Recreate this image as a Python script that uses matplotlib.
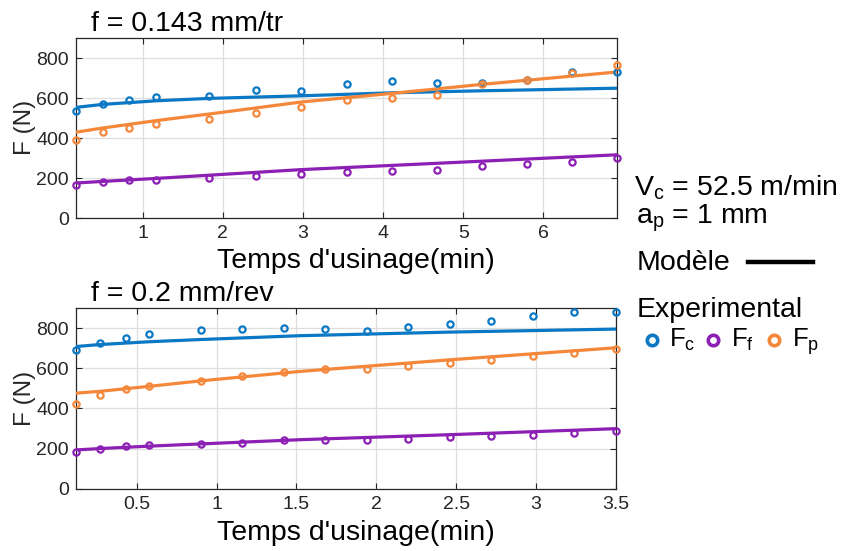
import matplotlib
matplotlib.use("Agg")
import matplotlib.pyplot as plt
import numpy as np

plt.rcParams['font.family'] = ['Liberation Sans', 'DejaVu Sans']
plt.rcParams['mathtext.fontset'] = 'custom'
plt.rcParams['mathtext.rm'] = 'Liberation Sans'
plt.rcParams['mathtext.it'] = 'Liberation Sans:italic'

c_blue = '#0A78C4'
c_orange = '#F5873A'
c_purple = '#8C1FB4'

# f = 0.143 mm/tr
t1 = [0.167, 0.5, 0.833, 1.167, 1.833, 2.42, 2.98, 3.55, 4.11, 4.67, 5.23, 5.8, 6.36, 6.92]
fc1 = [537, 570, 590, 603, 610, 640, 635, 669, 683, 673, 673, 692, 732, 732]
fp1 = [388, 432, 451, 469, 495, 525, 557, 591, 598, 615, 668, 692, 724, 763]
ff1 = [164, 180, 189, 192, 202, 210, 220, 230, 234, 242, 260, 271, 280, 302]
tm1 = [0.167, 0.5, 1.17, 1.83, 2.98, 4.11, 5.23, 6.92]
fc1_mod = [553, 568, 586, 598, 611, 626, 636, 649]
fp1_mod = [429, 450, 487, 520, 580, 623, 668, 730]
ff1_mod = [175, 183, 198, 214, 242, 263, 284, 316]

# f = 0.2 mm/rev
t2 = [0.12, 0.27, 0.43, 0.58, 0.90, 1.16, 1.42, 1.68, 1.94, 2.20, 2.46, 2.72, 2.98, 3.24, 3.50]
fc2 = [692, 725, 753, 772, 792, 793, 800, 797, 785, 805, 820, 835, 861, 880, 881]
fp2 = [421, 467, 496, 511, 536, 559, 582, 594, 594, 612, 624, 639, 659, 675, 698]
ff2 = [183, 200, 213, 216, 225, 230, 241, 245, 243, 250, 259, 264, 269, 278, 289]
tm2 = [0.12, 0.27, 0.58, 0.90, 1.52, 2.46, 3.50]
fc2_mod = [708, 718, 732, 743, 762, 780, 795]
fp2_mod = [476, 485, 510, 537, 584, 642, 702]
ff2_mod = [193, 200, 212, 223, 244, 269, 299]

xt1 = [1, 2, 3, 4, 5, 6]
xt2 = [0.5, 1, 1.5, 2, 2.5, 3, 3.5]
xt2_lab = ['0.5', '1', '1.5', '2', '2.5', '3', '3.5']
yt = [0, 200, 400, 600, 800]

fig = plt.figure(figsize=(8.45, 5.51), dpi=100)
W, H = 845, 551
ax1 = fig.add_axes([76/W, 1-218/H, 541/W, 180/H])
ax2 = fig.add_axes([76/W, 1-488.7/H, 540/W, 180.7/H])


def draw(ax, t, fc, fp, ff, tm, fcm, fpm, ffm, xlim, xt, xtl):
    for y, ym, col in [(fc, fcm, c_blue), (fp, fpm, c_orange), (ff, ffm, c_purple)]:
        ax.plot(tm, ym, color=col, lw=2.3, solid_capstyle='butt', zorder=3)
        ax.plot(t, y, 'o', mfc='none', mec=col, ms=4.5, mew=1.6, clip_on=False, zorder=4)
    ax.set_xlim(*xlim)
    ax.set_ylim(0, 900)
    ax.set_xticks(xt)
    ax.set_xticklabels(xtl)
    ax.set_yticks(yt)
    ax.grid(True, color='#dedede', lw=0.9)
    ax.set_axisbelow(True)
    ax.tick_params(direction='in', top=True, right=True, length=4, width=0.8,
                   labelsize=14, colors='#262626', pad=5)
    for s in ax.spines.values():
        s.set_color('#262626')
        s.set_linewidth(0.9)


draw(ax1, t1, fc1, fp1, ff1, tm1, fc1_mod, fp1_mod, ff1_mod, (0.167, 6.92), xt1, [str(v) for v in xt1])
draw(ax2, t2, fc2, fp2, ff2, tm2, fc2_mod, fp2_mod, ff2_mod, (0.12, 3.5), xt2, xt2_lab)

# titles, labels
fig.text(91/W, 1-31/H, 'f = 0.143 mm/tr', fontsize=20.5, va='baseline', ha='left')
fig.text(91/W, 1-301/H, 'f = 0.2 mm/rev', fontsize=20.5, va='baseline', ha='left')
fig.text(356/W, 1-268/H, "Temps d'usinage(min)", fontsize=20.5, va='baseline', ha='center')
fig.text(356/W, 1-540/H, "Temps d'usinage(min)", fontsize=20.5, va='baseline', ha='center')
fig.text(25/W, 1-127/H, 'F (N)', fontsize=17.5, rotation=90, va='center', ha='center', color='#262626')
fig.text(25/W, 1-398/H, 'F (N)', fontsize=17.5, rotation=90, va='center', ha='center', color='#262626')

# side annotation
fig.text(634/W, 1-195/H, r'V$_\mathrm{c}$ = 52.5 m/min', fontsize=20.5, va='baseline')
fig.text(636/W, 1-223/H, r'a$_\mathrm{p}$ = 1 mm', fontsize=20.5, va='baseline')
fig.text(637/W, 1-270/H, 'Modèle', fontsize=20.5, va='baseline')
fig.add_artist(plt.Line2D([748/W, 813/W], [1-262/H, 1-262/H], color='black', lw=3.2))
fig.text(637/W, 1-317/H, 'Experimental', fontsize=20.5, va='baseline')
for x, col, lab, lx in [(652, c_blue, r'F$_\mathrm{c}$', 669),
                        (713, c_purple, r'F$_\mathrm{f}$', 731),
                        (774, c_orange, r'F$_\mathrm{p}$', 792)]:
    fig.add_artist(plt.Line2D([x/W], [1-340/H], marker='o', mfc='none', mec=col,
                              ms=7.5, mew=2.6, ls='none'))
    fig.text(lx/W, 1-347/H, lab, fontsize=18.5, va='baseline')

fig.savefig('out.png', dpi=100)
